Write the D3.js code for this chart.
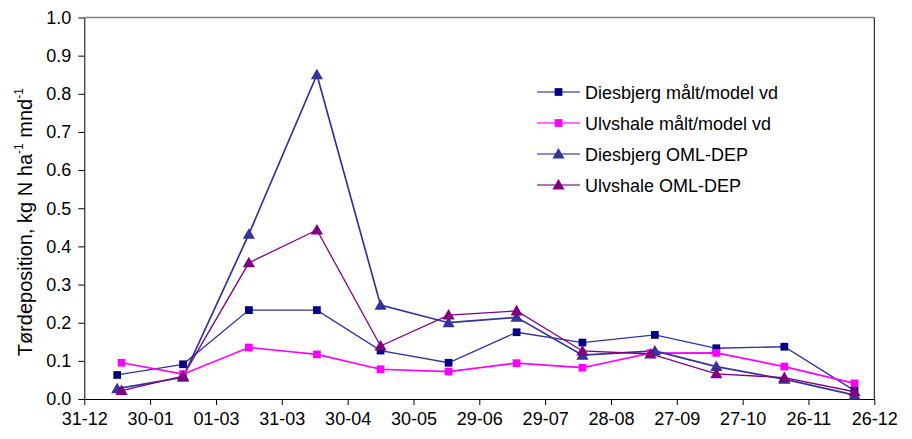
<!DOCTYPE html>
<html>
<head>
<meta charset="utf-8">
<script src="https://cdn.jsdelivr.net/npm/d3@7"></script>
<style>
  body { margin: 0; background: #fff; }
  svg { display: block; font-family: "Liberation Sans", Arial, sans-serif; }
</style>
</head>
<body>
<svg id="chart" width="912" height="439"></svg>
<script>
// Monthly dry deposition of nitrogen, 1999
const datesDiesbjerg = ["1999-01-15","1999-02-14","1999-03-16","1999-04-16","1999-05-15","1999-06-15",
                        "1999-07-16","1999-08-15","1999-09-17","1999-10-15","1999-11-15","1999-12-17"];
const datesUlvshale  = ["1999-01-17","1999-02-14","1999-03-16","1999-04-16","1999-05-15","1999-06-15",
                        "1999-07-16","1999-08-15","1999-09-15","1999-10-15","1999-11-15","1999-12-17"];

const diesbjergMaalt = [0.063, 0.091, 0.233, 0.233, 0.127, 0.095, 0.175, 0.148, 0.168, 0.133, 0.137, 0.022];
const ulvshaleMaalt  = [0.095, 0.065, 0.135, 0.117, 0.078, 0.072, 0.094, 0.082, 0.120, 0.121, 0.085, 0.041];
const diesbjergOml   = [0.027, 0.057, 0.432, 0.850, 0.246, 0.200, 0.214, 0.115, 0.126, 0.085, 0.052, 0.010];
const ulvshaleOml    = [0.022, 0.060, 0.357, 0.443, 0.139, 0.220, 0.231, 0.126, 0.118, 0.066, 0.056, 0.019];

const yTicks = [0, 0.1, 0.2, 0.3, 0.4, 0.5, 0.6, 0.7, 0.8, 0.9, 1.0];
const xStart = "1998-12-31";
const xTickStepDays = 30;
const xTickCount = 13;

const series = [
  { name: "Diesbjerg målt/model vd", dates: datesDiesbjerg, values: diesbjergMaalt,
    line: "#333399", marker: "#000080", symbol: "square", width: 1.3 },
  { name: "Ulvshale målt/model vd", dates: datesUlvshale, values: ulvshaleMaalt,
    line: "#ff00ff", marker: "#ff00ff", symbol: "square", width: 1.7 },
  { name: "Diesbjerg OML-DEP", dates: datesDiesbjerg, values: diesbjergOml,
    line: "#333399", marker: "#333399", symbol: "triangle", width: 1.7 },
  { name: "Ulvshale OML-DEP", dates: datesUlvshale, values: ulvshaleOml,
    line: "#800080", marker: "#800080", symbol: "triangle", width: 1.3 }
];

const svg = d3.select("#chart");
const plotLeft = 84.3, plotRight = 874.3, plotTop = 17.5, plotBottom = 399;
const fontSize = 18;

const parse = d3.timeParse("%Y-%m-%d");
const t0 = parse(xStart);
const xTickDates = d3.range(xTickCount).map(i => d3.timeDay.offset(t0, i * xTickStepDays));

const x = d3.scaleTime().domain([t0, xTickDates[xTickDates.length - 1]]).range([plotLeft, plotRight]);
const y = d3.scaleLinear().domain([0, 1]).range([plotBottom, plotTop]);

// plot frame: grey top edge, black right edge
svg.append("line").attr("x1", plotLeft).attr("x2", plotRight).attr("y1", plotTop).attr("y2", plotTop)
  .attr("stroke", "#808080").attr("stroke-width", 1.5);
svg.append("line").attr("x1", plotRight).attr("x2", plotRight).attr("y1", plotTop).attr("y2", plotBottom)
  .attr("stroke", "#000").attr("stroke-width", 1);

// axes
const yAxis = d3.axisLeft(y).tickValues(yTicks).tickFormat(d3.format(".1f"))
  .tickSizeInner(6).tickSizeOuter(0).tickPadding(7);
const gy = svg.append("g").attr("transform", `translate(${plotLeft},0)`).call(yAxis);
gy.selectAll("text").attr("font-size", fontSize).attr("fill", "#000");

const xAxis = d3.axisBottom(x).tickValues(xTickDates).tickFormat(d3.timeFormat("%d-%m"))
  .tickSizeInner(6).tickSizeOuter(0).tickPadding(7);
const gx = svg.append("g").attr("transform", `translate(0,${plotBottom})`).call(xAxis);
gx.selectAll("text").attr("font-size", fontSize).attr("fill", "#000");

[gx, gy].forEach(g => {
  g.select(".domain").attr("stroke", "#000");
  g.selectAll(".tick line").attr("stroke", "#000");
  g.attr("font-family", null);
});

// y axis title with superscripts
const title = svg.append("text")
  .attr("transform", `translate(32,${(plotTop + plotBottom) / 2 + 14}) rotate(-90)`)
  .attr("text-anchor", "middle").attr("font-size", 20).attr("fill", "#000");
title.append("tspan").text("Tørdeposition, kg N ha");
title.append("tspan").attr("font-size", 12).attr("dy", -9).text("-1");
title.append("tspan").attr("dy", 9).text(" mnd");
title.append("tspan").attr("font-size", 12).attr("dy", -9).text("-1");

const symSquare = d3.symbol().type(d3.symbolSquare).size(60);
const symTriangle = d3.symbol().type(d3.symbolTriangle).size(64);

series.forEach(s => {
  const pts = s.values.map((v, i) => ({ t: parse(s.dates[i]), v }));
  svg.append("path").datum(pts)
    .attr("fill", "none").attr("stroke", s.line).attr("stroke-width", s.width)
    .attr("d", d3.line().x(d => x(d.t)).y(d => y(d.v)));
});
series.forEach(s => {
  const pts = s.values.map((v, i) => ({ t: parse(s.dates[i]), v }));
  svg.append("g").selectAll("path").data(pts).join("path")
    .attr("transform", d => `translate(${x(d.t)},${y(d.v) + (s.symbol === "triangle" ? 1 : 0)})`)
    .attr("d", s.symbol === "square" ? symSquare() : symTriangle())
    .attr("fill", s.marker);
});

// legend
const legend = svg.append("g");
series.forEach((s, i) => {
  const ly = 92 + i * 31;
  legend.append("line").attr("x1", 537).attr("x2", 580).attr("y1", ly).attr("y2", ly)
    .attr("stroke", s.line).attr("stroke-width", s.width).attr("opacity", 0.75);
  legend.append("path")
    .attr("transform", `translate(558.5,${ly + (s.symbol === "triangle" ? 1 : 0)})`)
    .attr("d", s.symbol === "square" ? symSquare() : symTriangle())
    .attr("fill", s.marker);
  legend.append("text").attr("x", 585).attr("y", ly + 6.5).attr("font-size", fontSize)
    .attr("fill", "#000").text(s.name);
});
</script>
</body>
</html>
